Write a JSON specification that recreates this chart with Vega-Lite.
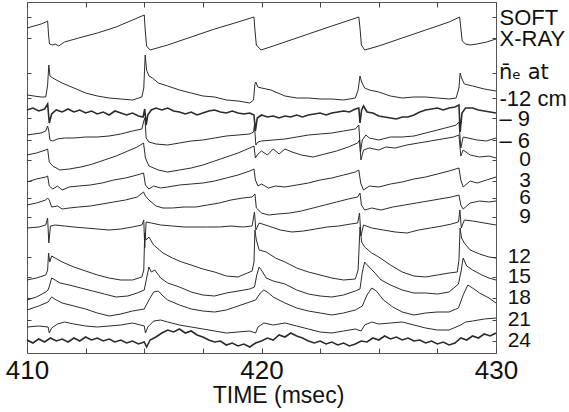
{
"$schema":"https://vega.github.io/schema/vega-lite/v6.json",
"autosize":{"type":"none"},
"width":469,"height":351,
"padding":{"left":27,"top":2,"right":73,"bottom":59},
"background":"white",
"config":{"view":{"stroke":"#555","strokeWidth":1},"font":"Liberation Sans"},
"data":{"values":[
{"k":"sxr","t":410,"d":28},{"k":"sxr","t":410.3,"d":26},{"k":"sxr","t":410.6,"d":24},{"k":"sxr","t":410.8,"d":22},{"k":"sxr","t":410.88,"d":21},{"k":"sxr","t":410.92,"d":35},{"k":"sxr","t":410.96,"d":44},{"k":"sxr","t":411.1,"d":45},{"k":"sxr","t":411.2,"d":44},{"k":"sxr","t":411.35,"d":46},{"k":"sxr","t":411.6,"d":42},{"k":"sxr","t":412.2,"d":38},{"k":"sxr","t":413,"d":33},{"k":"sxr","t":413.8,"d":27},{"k":"sxr","t":414.5,"d":20},{"k":"sxr","t":415,"d":15},{"k":"sxr","t":415.04,"d":30},{"k":"sxr","t":415.1,"d":46},{"k":"sxr","t":415.25,"d":50},{"k":"sxr","t":416,"d":45},{"k":"sxr","t":417,"d":37},{"k":"sxr","t":418,"d":29},{"k":"sxr","t":419,"d":22},{"k":"sxr","t":419.68,"d":17},{"k":"sxr","t":419.72,"d":30},{"k":"sxr","t":419.78,"d":45},{"k":"sxr","t":419.98,"d":50},{"k":"sxr","t":420.5,"d":46},{"k":"sxr","t":421,"d":42},{"k":"sxr","t":422,"d":34},{"k":"sxr","t":423,"d":26},{"k":"sxr","t":423.9,"d":19},{"k":"sxr","t":424.15,"d":17},{"k":"sxr","t":424.2,"d":28},{"k":"sxr","t":424.26,"d":45},{"k":"sxr","t":424.4,"d":50},{"k":"sxr","t":425,"d":46},{"k":"sxr","t":426,"d":38},{"k":"sxr","t":427,"d":30},{"k":"sxr","t":428,"d":22},{"k":"sxr","t":428.45,"d":17},{"k":"sxr","t":428.5,"d":28},{"k":"sxr","t":428.56,"d":41},{"k":"sxr","t":428.7,"d":44},{"k":"sxr","t":428.9,"d":45},{"k":"sxr","t":429.2,"d":44},{"k":"sxr","t":429.6,"d":42},{"k":"sxr","t":430,"d":39},

{"k":"m12","t":410,"d":95},{"k":"m12","t":410.3,"d":96},{"k":"m12","t":410.6,"d":97},{"k":"m12","t":410.8,"d":97},{"k":"m12","t":410.88,"d":85},{"k":"m12","t":410.93,"d":65},{"k":"m12","t":410.98,"d":76},{"k":"m12","t":411.1,"d":78},{"k":"m12","t":411.25,"d":80},{"k":"m12","t":411.5,"d":83},{"k":"m12","t":412,"d":88},{"k":"m12","t":412.5,"d":93},{"k":"m12","t":413,"d":96},{"k":"m12","t":413.5,"d":98},{"k":"m12","t":414,"d":99},{"k":"m12","t":414.5,"d":100},{"k":"m12","t":414.9,"d":97},{"k":"m12","t":414.98,"d":88},{"k":"m12","t":415.04,"d":55},{"k":"m12","t":415.1,"d":70},{"k":"m12","t":415.2,"d":76},{"k":"m12","t":415.35,"d":78},{"k":"m12","t":415.6,"d":83},{"k":"m12","t":416,"d":86},{"k":"m12","t":416.5,"d":90},{"k":"m12","t":417,"d":93},{"k":"m12","t":417.5,"d":96},{"k":"m12","t":418,"d":97},{"k":"m12","t":418.5,"d":100},{"k":"m12","t":419,"d":101},{"k":"m12","t":419.5,"d":103},{"k":"m12","t":419.66,"d":100},{"k":"m12","t":419.72,"d":84},{"k":"m12","t":419.76,"d":82},{"k":"m12","t":419.84,"d":87},{"k":"m12","t":420,"d":88},{"k":"m12","t":420.4,"d":90},{"k":"m12","t":421,"d":96},{"k":"m12","t":421.5,"d":98},{"k":"m12","t":422,"d":98},{"k":"m12","t":422.5,"d":99},{"k":"m12","t":423,"d":99},{"k":"m12","t":423.5,"d":100},{"k":"m12","t":424,"d":98},{"k":"m12","t":424.12,"d":90},{"k":"m12","t":424.2,"d":76},{"k":"m12","t":424.27,"d":82},{"k":"m12","t":424.4,"d":88},{"k":"m12","t":424.6,"d":90},{"k":"m12","t":425,"d":92},{"k":"m12","t":425.5,"d":96},{"k":"m12","t":426,"d":98},{"k":"m12","t":426.5,"d":97},{"k":"m12","t":427,"d":97},{"k":"m12","t":427.5,"d":98},{"k":"m12","t":428,"d":99},{"k":"m12","t":428.3,"d":98},{"k":"m12","t":428.42,"d":88},{"k":"m12","t":428.47,"d":73},{"k":"m12","t":428.53,"d":78},{"k":"m12","t":428.65,"d":84},{"k":"m12","t":429,"d":86},{"k":"m12","t":429.5,"d":89},{"k":"m12","t":430,"d":91},

{"k":"m9","t":410,"d":110},{"k":"m9","t":410.25,"d":108},{"k":"m9","t":410.5,"d":111},{"k":"m9","t":410.75,"d":109},{"k":"m9","t":410.88,"d":104},{"k":"m9","t":410.95,"d":123},{"k":"m9","t":411.05,"d":114},{"k":"m9","t":411.25,"d":110},{"k":"m9","t":411.5,"d":112},{"k":"m9","t":411.75,"d":109},{"k":"m9","t":412,"d":112},{"k":"m9","t":412.25,"d":110},{"k":"m9","t":412.5,"d":113},{"k":"m9","t":412.75,"d":111},{"k":"m9","t":413,"d":114},{"k":"m9","t":413.25,"d":112},{"k":"m9","t":413.5,"d":115},{"k":"m9","t":413.75,"d":111},{"k":"m9","t":414,"d":113},{"k":"m9","t":414.25,"d":115},{"k":"m9","t":414.5,"d":113},{"k":"m9","t":414.75,"d":116},{"k":"m9","t":414.95,"d":117},{"k":"m9","t":415.02,"d":109},{"k":"m9","t":415.08,"d":125},{"k":"m9","t":415.15,"d":115},{"k":"m9","t":415.3,"d":110},{"k":"m9","t":415.5,"d":108},{"k":"m9","t":415.75,"d":110},{"k":"m9","t":416,"d":108},{"k":"m9","t":416.25,"d":111},{"k":"m9","t":416.5,"d":112},{"k":"m9","t":416.75,"d":114},{"k":"m9","t":417,"d":112},{"k":"m9","t":417.25,"d":115},{"k":"m9","t":417.5,"d":113},{"k":"m9","t":417.75,"d":111},{"k":"m9","t":418,"d":110},{"k":"m9","t":418.25,"d":112},{"k":"m9","t":418.5,"d":113},{"k":"m9","t":418.75,"d":111},{"k":"m9","t":419,"d":113},{"k":"m9","t":419.25,"d":114},{"k":"m9","t":419.5,"d":113},{"k":"m9","t":419.68,"d":115},{"k":"m9","t":419.74,"d":131},{"k":"m9","t":419.82,"d":118},{"k":"m9","t":420,"d":115},{"k":"m9","t":420.25,"d":117},{"k":"m9","t":420.5,"d":116},{"k":"m9","t":420.75,"d":118},{"k":"m9","t":421,"d":116},{"k":"m9","t":421.25,"d":117},{"k":"m9","t":421.5,"d":115},{"k":"m9","t":421.75,"d":117},{"k":"m9","t":422,"d":115},{"k":"m9","t":422.25,"d":114},{"k":"m9","t":422.5,"d":113},{"k":"m9","t":422.75,"d":115},{"k":"m9","t":423,"d":113},{"k":"m9","t":423.25,"d":112},{"k":"m9","t":423.5,"d":111},{"k":"m9","t":423.75,"d":112},{"k":"m9","t":424,"d":109},{"k":"m9","t":424.15,"d":108},{"k":"m9","t":424.2,"d":123},{"k":"m9","t":424.27,"d":110},{"k":"m9","t":424.35,"d":106},{"k":"m9","t":424.5,"d":112},{"k":"m9","t":424.75,"d":113},{"k":"m9","t":425,"d":116},{"k":"m9","t":425.25,"d":117},{"k":"m9","t":425.5,"d":118},{"k":"m9","t":425.75,"d":119},{"k":"m9","t":426,"d":117},{"k":"m9","t":426.25,"d":117},{"k":"m9","t":426.5,"d":115},{"k":"m9","t":426.75,"d":112},{"k":"m9","t":427,"d":110},{"k":"m9","t":427.25,"d":109},{"k":"m9","t":427.5,"d":108},{"k":"m9","t":427.75,"d":110},{"k":"m9","t":428,"d":108},{"k":"m9","t":428.25,"d":107},{"k":"m9","t":428.42,"d":105},{"k":"m9","t":428.47,"d":132},{"k":"m9","t":428.55,"d":113},{"k":"m9","t":428.7,"d":108},{"k":"m9","t":429,"d":108},{"k":"m9","t":429.25,"d":110},{"k":"m9","t":429.5,"d":111},{"k":"m9","t":429.75,"d":112},{"k":"m9","t":430,"d":113},

{"k":"m6","t":410,"d":135},{"k":"m6","t":410.3,"d":134},{"k":"m6","t":410.6,"d":133},{"k":"m6","t":410.8,"d":131},{"k":"m6","t":410.88,"d":126},{"k":"m6","t":410.93,"d":131},{"k":"m6","t":410.98,"d":140},{"k":"m6","t":411.1,"d":141},{"k":"m6","t":411.3,"d":139},{"k":"m6","t":411.6,"d":138},{"k":"m6","t":412,"d":138},{"k":"m6","t":412.5,"d":137},{"k":"m6","t":413,"d":137},{"k":"m6","t":413.5,"d":136},{"k":"m6","t":414,"d":134},{"k":"m6","t":414.5,"d":131},{"k":"m6","t":414.9,"d":129},{"k":"m6","t":414.98,"d":121},{"k":"m6","t":415.03,"d":118},{"k":"m6","t":415.08,"d":138},{"k":"m6","t":415.2,"d":142},{"k":"m6","t":415.5,"d":144},{"k":"m6","t":416,"d":145},{"k":"m6","t":416.5,"d":143},{"k":"m6","t":417,"d":141},{"k":"m6","t":417.5,"d":140},{"k":"m6","t":418,"d":138},{"k":"m6","t":418.5,"d":136},{"k":"m6","t":419,"d":135},{"k":"m6","t":419.5,"d":134},{"k":"m6","t":419.66,"d":132},{"k":"m6","t":419.7,"d":125},{"k":"m6","t":419.76,"d":145},{"k":"m6","t":419.85,"d":142},{"k":"m6","t":420,"d":141},{"k":"m6","t":420.5,"d":140},{"k":"m6","t":421,"d":139},{"k":"m6","t":421.5,"d":137},{"k":"m6","t":422,"d":135},{"k":"m6","t":422.5,"d":134},{"k":"m6","t":423,"d":133},{"k":"m6","t":423.5,"d":131},{"k":"m6","t":424,"d":129},{"k":"m6","t":424.15,"d":125},{"k":"m6","t":424.22,"d":152},{"k":"m6","t":424.3,"d":140},{"k":"m6","t":424.45,"d":135},{"k":"m6","t":424.6,"d":138},{"k":"m6","t":425,"d":140},{"k":"m6","t":425.5,"d":137},{"k":"m6","t":426,"d":137},{"k":"m6","t":426.5,"d":136},{"k":"m6","t":427,"d":133},{"k":"m6","t":427.5,"d":130},{"k":"m6","t":428,"d":127},{"k":"m6","t":428.3,"d":125},{"k":"m6","t":428.42,"d":122},{"k":"m6","t":428.5,"d":148},{"k":"m6","t":428.6,"d":137},{"k":"m6","t":428.8,"d":138},{"k":"m6","t":429.2,"d":140},{"k":"m6","t":429.6,"d":141},{"k":"m6","t":430,"d":138},

{"k":"p0","t":410,"d":155},{"k":"p0","t":410.4,"d":153},{"k":"p0","t":410.8,"d":150},{"k":"p0","t":410.88,"d":149},{"k":"p0","t":410.95,"d":162},{"k":"p0","t":411.1,"d":166},{"k":"p0","t":411.4,"d":170},{"k":"p0","t":411.8,"d":169},{"k":"p0","t":412.3,"d":167},{"k":"p0","t":412.8,"d":164},{"k":"p0","t":413.3,"d":160},{"k":"p0","t":413.8,"d":156},{"k":"p0","t":414.3,"d":151},{"k":"p0","t":414.7,"d":147},{"k":"p0","t":414.97,"d":143},{"k":"p0","t":415.05,"d":158},{"k":"p0","t":415.2,"d":166},{"k":"p0","t":415.6,"d":170},{"k":"p0","t":416,"d":172},{"k":"p0","t":416.5,"d":170},{"k":"p0","t":417,"d":168},{"k":"p0","t":417.5,"d":165},{"k":"p0","t":418,"d":161},{"k":"p0","t":418.5,"d":157},{"k":"p0","t":419,"d":153},{"k":"p0","t":419.5,"d":148},{"k":"p0","t":419.68,"d":146},{"k":"p0","t":419.74,"d":158},{"k":"p0","t":419.85,"d":154},{"k":"p0","t":420,"d":151},{"k":"p0","t":420.25,"d":155},{"k":"p0","t":420.5,"d":149},{"k":"p0","t":420.75,"d":154},{"k":"p0","t":421,"d":149},{"k":"p0","t":421.3,"d":152},{"k":"p0","t":421.7,"d":155},{"k":"p0","t":422.2,"d":157},{"k":"p0","t":422.7,"d":154},{"k":"p0","t":423.2,"d":151},{"k":"p0","t":423.7,"d":147},{"k":"p0","t":424.1,"d":143},{"k":"p0","t":424.18,"d":140},{"k":"p0","t":424.24,"d":160},{"k":"p0","t":424.35,"d":150},{"k":"p0","t":424.6,"d":148},{"k":"p0","t":425,"d":150},{"k":"p0","t":425.3,"d":147},{"k":"p0","t":425.7,"d":148},{"k":"p0","t":426.2,"d":145},{"k":"p0","t":426.7,"d":143},{"k":"p0","t":427.2,"d":141},{"k":"p0","t":427.7,"d":139},{"k":"p0","t":428.2,"d":137},{"k":"p0","t":428.42,"d":135},{"k":"p0","t":428.5,"d":156},{"k":"p0","t":428.6,"d":150},{"k":"p0","t":428.9,"d":155},{"k":"p0","t":429.3,"d":157},{"k":"p0","t":429.7,"d":156},{"k":"p0","t":430,"d":158},

{"k":"p3","t":410,"d":182},{"k":"p3","t":410.4,"d":179},{"k":"p3","t":410.8,"d":177},{"k":"p3","t":410.88,"d":176},{"k":"p3","t":410.95,"d":186},{"k":"p3","t":411.1,"d":189},{"k":"p3","t":411.3,"d":186},{"k":"p3","t":411.5,"d":190},{"k":"p3","t":411.8,"d":187},{"k":"p3","t":412.2,"d":186},{"k":"p3","t":412.7,"d":185},{"k":"p3","t":413.2,"d":183},{"k":"p3","t":413.7,"d":180},{"k":"p3","t":414.2,"d":178},{"k":"p3","t":414.7,"d":175},{"k":"p3","t":414.97,"d":173},{"k":"p3","t":415.05,"d":185},{"k":"p3","t":415.2,"d":189},{"k":"p3","t":415.4,"d":186},{"k":"p3","t":415.7,"d":188},{"k":"p3","t":416,"d":187},{"k":"p3","t":416.5,"d":185},{"k":"p3","t":417,"d":184},{"k":"p3","t":417.5,"d":183},{"k":"p3","t":418,"d":181},{"k":"p3","t":418.5,"d":178},{"k":"p3","t":419,"d":175},{"k":"p3","t":419.5,"d":171},{"k":"p3","t":419.68,"d":169},{"k":"p3","t":419.74,"d":180},{"k":"p3","t":419.85,"d":186},{"k":"p3","t":420,"d":184},{"k":"p3","t":420.3,"d":188},{"k":"p3","t":420.6,"d":186},{"k":"p3","t":421,"d":187},{"k":"p3","t":421.5,"d":185},{"k":"p3","t":422,"d":183},{"k":"p3","t":422.5,"d":180},{"k":"p3","t":423,"d":178},{"k":"p3","t":423.5,"d":175},{"k":"p3","t":424,"d":172},{"k":"p3","t":424.15,"d":170},{"k":"p3","t":424.23,"d":183},{"k":"p3","t":424.35,"d":190},{"k":"p3","t":424.6,"d":186},{"k":"p3","t":425,"d":187},{"k":"p3","t":425.5,"d":184},{"k":"p3","t":426,"d":182},{"k":"p3","t":426.5,"d":179},{"k":"p3","t":427,"d":177},{"k":"p3","t":427.5,"d":174},{"k":"p3","t":428,"d":171},{"k":"p3","t":428.42,"d":168},{"k":"p3","t":428.5,"d":180},{"k":"p3","t":428.6,"d":187},{"k":"p3","t":428.9,"d":181},{"k":"p3","t":429.2,"d":183},{"k":"p3","t":429.6,"d":180},{"k":"p3","t":430,"d":177},

{"k":"p6","t":410,"d":205},{"k":"p6","t":410.4,"d":203},{"k":"p6","t":410.8,"d":200},{"k":"p6","t":410.88,"d":198},{"k":"p6","t":410.95,"d":200},{"k":"p6","t":411.05,"d":207},{"k":"p6","t":411.3,"d":206},{"k":"p6","t":411.5,"d":209},{"k":"p6","t":411.8,"d":208},{"k":"p6","t":412.2,"d":207},{"k":"p6","t":412.7,"d":206},{"k":"p6","t":413.2,"d":204},{"k":"p6","t":413.7,"d":202},{"k":"p6","t":414.2,"d":200},{"k":"p6","t":414.7,"d":197},{"k":"p6","t":414.97,"d":192},{"k":"p6","t":415.05,"d":196},{"k":"p6","t":415.2,"d":200},{"k":"p6","t":415.5,"d":206},{"k":"p6","t":415.8,"d":208},{"k":"p6","t":416.2,"d":208},{"k":"p6","t":416.7,"d":207},{"k":"p6","t":417.2,"d":207},{"k":"p6","t":417.7,"d":205},{"k":"p6","t":418.2,"d":203},{"k":"p6","t":418.7,"d":200},{"k":"p6","t":419.2,"d":198},{"k":"p6","t":419.6,"d":197},{"k":"p6","t":419.72,"d":194},{"k":"p6","t":419.78,"d":208},{"k":"p6","t":420,"d":213},{"k":"p6","t":420.3,"d":215},{"k":"p6","t":420.7,"d":214},{"k":"p6","t":421.2,"d":213},{"k":"p6","t":421.7,"d":211},{"k":"p6","t":422.2,"d":208},{"k":"p6","t":422.7,"d":205},{"k":"p6","t":423.2,"d":202},{"k":"p6","t":423.7,"d":199},{"k":"p6","t":424.1,"d":197},{"k":"p6","t":424.2,"d":193},{"k":"p6","t":424.26,"d":205},{"k":"p6","t":424.4,"d":210},{"k":"p6","t":424.7,"d":208},{"k":"p6","t":425.1,"d":210},{"k":"p6","t":425.6,"d":207},{"k":"p6","t":426.1,"d":205},{"k":"p6","t":426.6,"d":203},{"k":"p6","t":427.1,"d":201},{"k":"p6","t":427.6,"d":199},{"k":"p6","t":428.1,"d":197},{"k":"p6","t":428.42,"d":195},{"k":"p6","t":428.5,"d":205},{"k":"p6","t":428.6,"d":209},{"k":"p6","t":428.9,"d":203},{"k":"p6","t":429.3,"d":201},{"k":"p6","t":429.7,"d":202},{"k":"p6","t":430,"d":201},

{"k":"p9","t":410,"d":228},{"k":"p9","t":410.5,"d":227},{"k":"p9","t":410.8,"d":225},{"k":"p9","t":410.88,"d":218},{"k":"p9","t":410.93,"d":243},{"k":"p9","t":411,"d":226},{"k":"p9","t":411.2,"d":225},{"k":"p9","t":411.6,"d":226},{"k":"p9","t":412,"d":227},{"k":"p9","t":412.5,"d":228},{"k":"p9","t":413,"d":229},{"k":"p9","t":413.5,"d":230},{"k":"p9","t":414,"d":229},{"k":"p9","t":414.5,"d":227},{"k":"p9","t":414.9,"d":225},{"k":"p9","t":414.98,"d":220},{"k":"p9","t":415.02,"d":248},{"k":"p9","t":415.08,"d":222},{"k":"p9","t":415.3,"d":223},{"k":"p9","t":415.7,"d":225},{"k":"p9","t":416.2,"d":226},{"k":"p9","t":416.7,"d":227},{"k":"p9","t":417.2,"d":227},{"k":"p9","t":417.7,"d":227},{"k":"p9","t":418.2,"d":227},{"k":"p9","t":418.7,"d":226},{"k":"p9","t":419.2,"d":227},{"k":"p9","t":419.6,"d":226},{"k":"p9","t":419.7,"d":212},{"k":"p9","t":419.76,"d":230},{"k":"p9","t":419.9,"d":223},{"k":"p9","t":420.3,"d":226},{"k":"p9","t":420.8,"d":230},{"k":"p9","t":421.3,"d":232},{"k":"p9","t":421.8,"d":231},{"k":"p9","t":422.3,"d":229},{"k":"p9","t":422.8,"d":227},{"k":"p9","t":423.3,"d":226},{"k":"p9","t":423.8,"d":224},{"k":"p9","t":424.1,"d":223},{"k":"p9","t":424.18,"d":213},{"k":"p9","t":424.24,"d":236},{"k":"p9","t":424.35,"d":225},{"k":"p9","t":424.7,"d":228},{"k":"p9","t":425.2,"d":230},{"k":"p9","t":425.7,"d":232},{"k":"p9","t":426.2,"d":233},{"k":"p9","t":426.7,"d":230},{"k":"p9","t":427.2,"d":228},{"k":"p9","t":427.7,"d":226},{"k":"p9","t":428.1,"d":224},{"k":"p9","t":428.4,"d":222},{"k":"p9","t":428.46,"d":210},{"k":"p9","t":428.52,"d":228},{"k":"p9","t":428.65,"d":220},{"k":"p9","t":429,"d":221},{"k":"p9","t":429.5,"d":223},{"k":"p9","t":430,"d":225},

{"k":"p12","t":410,"d":280},{"k":"p12","t":410.4,"d":278},{"k":"p12","t":410.8,"d":275},{"k":"p12","t":410.88,"d":270},{"k":"p12","t":410.92,"d":253},{"k":"p12","t":410.97,"d":262},{"k":"p12","t":411.05,"d":256},{"k":"p12","t":411.2,"d":258},{"k":"p12","t":411.5,"d":262},{"k":"p12","t":412,"d":267},{"k":"p12","t":412.5,"d":271},{"k":"p12","t":413,"d":275},{"k":"p12","t":413.5,"d":278},{"k":"p12","t":414,"d":280},{"k":"p12","t":414.5,"d":280},{"k":"p12","t":414.9,"d":277},{"k":"p12","t":414.98,"d":270},{"k":"p12","t":415.02,"d":233},{"k":"p12","t":415.08,"d":240},{"k":"p12","t":415.2,"d":237},{"k":"p12","t":415.4,"d":245},{"k":"p12","t":415.8,"d":253},{"k":"p12","t":416.2,"d":258},{"k":"p12","t":416.6,"d":262},{"k":"p12","t":417,"d":265},{"k":"p12","t":417.5,"d":269},{"k":"p12","t":418,"d":272},{"k":"p12","t":418.5,"d":276},{"k":"p12","t":419,"d":277},{"k":"p12","t":419.4,"d":273},{"k":"p12","t":419.6,"d":271},{"k":"p12","t":419.68,"d":262},{"k":"p12","t":419.72,"d":230},{"k":"p12","t":419.78,"d":240},{"k":"p12","t":419.9,"d":250},{"k":"p12","t":420.2,"d":252},{"k":"p12","t":420.6,"d":258},{"k":"p12","t":421,"d":262},{"k":"p12","t":421.5,"d":268},{"k":"p12","t":422,"d":272},{"k":"p12","t":422.5,"d":275},{"k":"p12","t":423,"d":278},{"k":"p12","t":423.5,"d":280},{"k":"p12","t":424,"d":279},{"k":"p12","t":424.12,"d":270},{"k":"p12","t":424.2,"d":227},{"k":"p12","t":424.27,"d":242},{"k":"p12","t":424.4,"d":247},{"k":"p12","t":424.7,"d":253},{"k":"p12","t":425,"d":257},{"k":"p12","t":425.5,"d":265},{"k":"p12","t":426,"d":272},{"k":"p12","t":426.5,"d":276},{"k":"p12","t":427,"d":277},{"k":"p12","t":427.5,"d":275},{"k":"p12","t":428,"d":273},{"k":"p12","t":428.35,"d":272},{"k":"p12","t":428.42,"d":260},{"k":"p12","t":428.47,"d":228},{"k":"p12","t":428.53,"d":238},{"k":"p12","t":428.65,"d":243},{"k":"p12","t":428.9,"d":250},{"k":"p12","t":429.3,"d":254},{"k":"p12","t":429.7,"d":257},{"k":"p12","t":430,"d":258},

{"k":"p15","t":410,"d":300},{"k":"p15","t":410.4,"d":297},{"k":"p15","t":410.8,"d":292},{"k":"p15","t":410.9,"d":290},{"k":"p15","t":410.97,"d":285},{"k":"p15","t":411.05,"d":278},{"k":"p15","t":411.2,"d":280},{"k":"p15","t":411.4,"d":283},{"k":"p15","t":411.8,"d":285},{"k":"p15","t":412.3,"d":288},{"k":"p15","t":412.8,"d":291},{"k":"p15","t":413.3,"d":294},{"k":"p15","t":413.8,"d":297},{"k":"p15","t":414.3,"d":296},{"k":"p15","t":414.7,"d":293},{"k":"p15","t":415,"d":290},{"k":"p15","t":415.1,"d":278},{"k":"p15","t":415.2,"d":267},{"k":"p15","t":415.3,"d":272},{"k":"p15","t":415.45,"d":270},{"k":"p15","t":415.7,"d":278},{"k":"p15","t":416,"d":283},{"k":"p15","t":416.5,"d":287},{"k":"p15","t":417,"d":292},{"k":"p15","t":417.5,"d":295},{"k":"p15","t":418,"d":296},{"k":"p15","t":418.5,"d":293},{"k":"p15","t":419,"d":291},{"k":"p15","t":419.5,"d":289},{"k":"p15","t":419.7,"d":287},{"k":"p15","t":419.8,"d":275},{"k":"p15","t":419.9,"d":267},{"k":"p15","t":420.05,"d":272},{"k":"p15","t":420.2,"d":278},{"k":"p15","t":420.5,"d":281},{"k":"p15","t":421,"d":284},{"k":"p15","t":421.5,"d":290},{"k":"p15","t":422,"d":294},{"k":"p15","t":422.5,"d":296},{"k":"p15","t":423,"d":297},{"k":"p15","t":423.5,"d":295},{"k":"p15","t":424,"d":291},{"k":"p15","t":424.2,"d":289},{"k":"p15","t":424.3,"d":272},{"k":"p15","t":424.4,"d":262},{"k":"p15","t":424.55,"d":266},{"k":"p15","t":424.8,"d":272},{"k":"p15","t":425.1,"d":280},{"k":"p15","t":425.5,"d":285},{"k":"p15","t":426,"d":290},{"k":"p15","t":426.5,"d":293},{"k":"p15","t":427,"d":293},{"k":"p15","t":427.5,"d":294},{"k":"p15","t":428,"d":292},{"k":"p15","t":428.4,"d":284},{"k":"p15","t":428.52,"d":270},{"k":"p15","t":428.6,"d":258},{"k":"p15","t":428.75,"d":266},{"k":"p15","t":429,"d":270},{"k":"p15","t":429.4,"d":275},{"k":"p15","t":429.7,"d":278},{"k":"p15","t":430,"d":280},

{"k":"p18","t":410,"d":310},{"k":"p18","t":410.5,"d":306},{"k":"p18","t":410.9,"d":302},{"k":"p18","t":411.05,"d":297},{"k":"p18","t":411.25,"d":300},{"k":"p18","t":411.5,"d":303},{"k":"p18","t":412,"d":306},{"k":"p18","t":412.5,"d":309},{"k":"p18","t":413,"d":313},{"k":"p18","t":413.5,"d":316},{"k":"p18","t":414,"d":314},{"k":"p18","t":414.5,"d":311},{"k":"p18","t":415,"d":309},{"k":"p18","t":415.2,"d":300},{"k":"p18","t":415.4,"d":292},{"k":"p18","t":415.6,"d":291},{"k":"p18","t":415.8,"d":296},{"k":"p18","t":416,"d":300},{"k":"p18","t":416.5,"d":305},{"k":"p18","t":417,"d":309},{"k":"p18","t":417.5,"d":311},{"k":"p18","t":418,"d":312},{"k":"p18","t":418.5,"d":310},{"k":"p18","t":419,"d":306},{"k":"p18","t":419.5,"d":302},{"k":"p18","t":419.75,"d":300},{"k":"p18","t":419.95,"d":293},{"k":"p18","t":420.1,"d":290},{"k":"p18","t":420.3,"d":293},{"k":"p18","t":420.5,"d":297},{"k":"p18","t":421,"d":303},{"k":"p18","t":421.5,"d":308},{"k":"p18","t":422,"d":311},{"k":"p18","t":422.5,"d":313},{"k":"p18","t":423,"d":315},{"k":"p18","t":423.5,"d":313},{"k":"p18","t":424,"d":310},{"k":"p18","t":424.3,"d":306},{"k":"p18","t":424.5,"d":295},{"k":"p18","t":424.7,"d":288},{"k":"p18","t":424.9,"d":291},{"k":"p18","t":425.2,"d":300},{"k":"p18","t":425.6,"d":307},{"k":"p18","t":426,"d":312},{"k":"p18","t":426.5,"d":315},{"k":"p18","t":427,"d":313},{"k":"p18","t":427.5,"d":312},{"k":"p18","t":428,"d":312},{"k":"p18","t":428.4,"d":308},{"k":"p18","t":428.6,"d":295},{"k":"p18","t":428.8,"d":285},{"k":"p18","t":429,"d":288},{"k":"p18","t":429.3,"d":293},{"k":"p18","t":429.7,"d":298},{"k":"p18","t":430,"d":303},

{"k":"p21","t":410,"d":327},{"k":"p21","t":410.5,"d":326},{"k":"p21","t":410.9,"d":327},{"k":"p21","t":410.95,"d":333},{"k":"p21","t":411.05,"d":328},{"k":"p21","t":411.3,"d":324},{"k":"p21","t":411.6,"d":322},{"k":"p21","t":412,"d":324},{"k":"p21","t":412.5,"d":326},{"k":"p21","t":413,"d":327},{"k":"p21","t":413.5,"d":326},{"k":"p21","t":414,"d":325},{"k":"p21","t":414.5,"d":323},{"k":"p21","t":415,"d":326},{"k":"p21","t":415.05,"d":333},{"k":"p21","t":415.15,"d":327},{"k":"p21","t":415.4,"d":321},{"k":"p21","t":415.7,"d":320},{"k":"p21","t":416,"d":322},{"k":"p21","t":416.5,"d":325},{"k":"p21","t":417,"d":327},{"k":"p21","t":417.5,"d":329},{"k":"p21","t":418,"d":331},{"k":"p21","t":418.5,"d":333},{"k":"p21","t":419,"d":332},{"k":"p21","t":419.5,"d":331},{"k":"p21","t":419.75,"d":333},{"k":"p21","t":419.85,"d":327},{"k":"p21","t":420.1,"d":323},{"k":"p21","t":420.5,"d":325},{"k":"p21","t":421,"d":323},{"k":"p21","t":421.5,"d":326},{"k":"p21","t":422,"d":329},{"k":"p21","t":422.5,"d":332},{"k":"p21","t":423,"d":333},{"k":"p21","t":423.5,"d":331},{"k":"p21","t":424,"d":329},{"k":"p21","t":424.25,"d":331},{"k":"p21","t":424.4,"d":325},{"k":"p21","t":424.7,"d":322},{"k":"p21","t":425,"d":324},{"k":"p21","t":425.5,"d":323},{"k":"p21","t":426,"d":322},{"k":"p21","t":426.5,"d":325},{"k":"p21","t":427,"d":328},{"k":"p21","t":427.5,"d":330},{"k":"p21","t":428,"d":330},{"k":"p21","t":428.5,"d":325},{"k":"p21","t":428.7,"d":322},{"k":"p21","t":429,"d":321},{"k":"p21","t":429.5,"d":319},{"k":"p21","t":430,"d":318},

{"k":"p24","t":410,"d":340},{"k":"p24","t":410.25,"d":343},{"k":"p24","t":410.5,"d":339},{"k":"p24","t":410.75,"d":342},{"k":"p24","t":411,"d":338},{"k":"p24","t":411.25,"d":341},{"k":"p24","t":411.5,"d":339},{"k":"p24","t":411.75,"d":342},{"k":"p24","t":412,"d":338},{"k":"p24","t":412.25,"d":341},{"k":"p24","t":412.5,"d":337},{"k":"p24","t":412.75,"d":340},{"k":"p24","t":413,"d":338},{"k":"p24","t":413.25,"d":341},{"k":"p24","t":413.5,"d":339},{"k":"p24","t":413.75,"d":342},{"k":"p24","t":414,"d":340},{"k":"p24","t":414.25,"d":343},{"k":"p24","t":414.5,"d":341},{"k":"p24","t":414.75,"d":344},{"k":"p24","t":415,"d":342},{"k":"p24","t":415.1,"d":347},{"k":"p24","t":415.25,"d":340},{"k":"p24","t":415.5,"d":337},{"k":"p24","t":415.75,"d":333},{"k":"p24","t":416,"d":330},{"k":"p24","t":416.25,"d":332},{"k":"p24","t":416.5,"d":329},{"k":"p24","t":416.75,"d":333},{"k":"p24","t":417,"d":331},{"k":"p24","t":417.25,"d":335},{"k":"p24","t":417.5,"d":337},{"k":"p24","t":417.75,"d":340},{"k":"p24","t":418,"d":342},{"k":"p24","t":418.25,"d":341},{"k":"p24","t":418.5,"d":345},{"k":"p24","t":418.75,"d":343},{"k":"p24","t":419,"d":346},{"k":"p24","t":419.25,"d":344},{"k":"p24","t":419.5,"d":347},{"k":"p24","t":419.75,"d":343},{"k":"p24","t":420,"d":341},{"k":"p24","t":420.25,"d":338},{"k":"p24","t":420.5,"d":340},{"k":"p24","t":420.75,"d":335},{"k":"p24","t":421,"d":337},{"k":"p24","t":421.25,"d":333},{"k":"p24","t":421.5,"d":336},{"k":"p24","t":421.75,"d":338},{"k":"p24","t":422,"d":341},{"k":"p24","t":422.25,"d":343},{"k":"p24","t":422.5,"d":341},{"k":"p24","t":422.75,"d":344},{"k":"p24","t":423,"d":342},{"k":"p24","t":423.25,"d":345},{"k":"p24","t":423.5,"d":343},{"k":"p24","t":423.75,"d":346},{"k":"p24","t":424,"d":344},{"k":"p24","t":424.25,"d":341},{"k":"p24","t":424.5,"d":342},{"k":"p24","t":424.75,"d":338},{"k":"p24","t":425,"d":340},{"k":"p24","t":425.25,"d":336},{"k":"p24","t":425.5,"d":339},{"k":"p24","t":425.75,"d":337},{"k":"p24","t":426,"d":340},{"k":"p24","t":426.25,"d":338},{"k":"p24","t":426.5,"d":341},{"k":"p24","t":426.75,"d":340},{"k":"p24","t":427,"d":343},{"k":"p24","t":427.25,"d":341},{"k":"p24","t":427.5,"d":344},{"k":"p24","t":427.75,"d":342},{"k":"p24","t":428,"d":345},{"k":"p24","t":428.25,"d":343},{"k":"p24","t":428.5,"d":338},{"k":"p24","t":428.75,"d":340},{"k":"p24","t":429,"d":336},{"k":"p24","t":429.25,"d":338},{"k":"p24","t":429.5,"d":334},{"k":"p24","t":429.75,"d":336},{"k":"p24","t":430,"d":333}
]},
"layer":[
{"mark":{"type":"line","stroke":"#2b2b2b","interpolate":"linear"},
 "encoding":{
  "x":{"field":"t","type":"quantitative","scale":{"domain":[410,430],"nice":false,"zero":false},
   "axis":{"orient":"bottom","values":[410,412.5,415,417.5,420,422.5,425,427.5,430],"labelExpr":"datum.value % 10 === 0 ? datum.label : ''","tickSize":-5,"tickColor":"#444","domain":false,"grid":false,"labelFontSize":26,"labelFont":"Liberation Sans","labelColor":"#111","labelPadding":9,"labelFlush":false,"labelOverlap":false,"title":"TIME (msec)","titleFontSize":23,"titleFontWeight":"normal","titleFont":"Liberation Sans","titleColor":"#111","titlePadding":1,"titleX":251}},
  "y":{"field":"d","type":"quantitative","scale":{"domain":[2,353],"reverse":true,"nice":false,"zero":false},
   "axis":{"orient":"left","values":[17,38,73,98,118,140,160,181,198,217,257,277,298,320,341],"tickSize":-4,"tickColor":"#444","labels":false,"domain":false,"grid":false,"title":null}},
  "detail":{"field":"k","type":"nominal"},
  "strokeWidth":{"condition":{"test":"datum.k==='m9' || datum.k==='p24'","value":1.6},"value":1}
 }},
{"mark":{"type":"point","opacity":0},
 "encoding":{
  "x":{"field":"t","type":"quantitative","axis":{"orient":"top","values":[410,412.5,415,417.5,420,422.5,425,427.5,430],"tickSize":-5,"tickColor":"#444","labels":false,"domain":false,"grid":false,"title":null}},
  "y":{"field":"d","type":"quantitative",
   "axis":{"orient":"right","values":[17,38,73,98,118,140,160,181,198,217,257,277,298,320,341],"tickSize":-4,"tickColor":"#444","domain":false,"grid":false,"title":null,"labelAlign":"left","labelBaseline":"middle","labelPadding":7,"labelFontSize":22,"labelFont":"Liberation Sans","labelColor":"#111","labelOverlap":false,"labelBound":false,"labelFlush":false,
    "labelExpr":"datum.value==17?'SOFT':datum.value==38?'X-RAY':datum.value==98?'-12 cm':datum.value==118?'\u2013 9':datum.value==140?'\u2013 6':''"}}
 }},
{"data":{"values":[{"lab":"n\u0304\u2091 at","lev":73}]},
 "mark":{"type":"text","align":"left","baseline":"middle","dx":3,"fontSize":21,"font":"DejaVu Sans","color":"#111"},
 "encoding":{
  "x":{"datum":430,"type":"quantitative","axis":null},
  "y":{"field":"lev","type":"quantitative","axis":null},
  "text":{"field":"lab","type":"nominal"}
 }},
{"data":{"values":[{"lab":"0","lev":160},{"lab":"3","lev":181},{"lab":"6","lev":198},{"lab":"9","lev":217},{"lab":"12","lev":257},{"lab":"15","lev":277},{"lab":"18","lev":298},{"lab":"21","lev":320},{"lab":"24","lev":341}]},
 "mark":{"type":"text","align":"right","baseline":"middle","dx":35,"fontSize":21,"font":"Liberation Sans","color":"#111"},
 "encoding":{
  "x":{"datum":430,"type":"quantitative","axis":null},
  "y":{"field":"lev","type":"quantitative","axis":null},
  "text":{"field":"lab","type":"nominal"}
 }}
],
"resolve":{"axis":{"x":"independent","y":"independent"}}
}
